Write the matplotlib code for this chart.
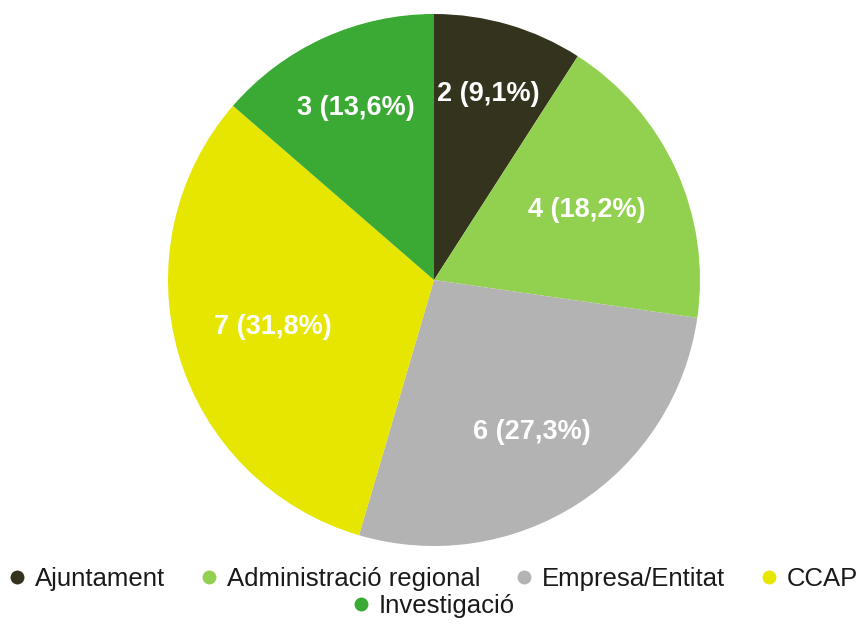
import numpy as np
import matplotlib
matplotlib.use('Agg')
import matplotlib.pyplot as plt
from matplotlib.lines import Line2D

categories = ['Ajuntament', 'Administració regional', 'Empresa/Entitat', 'CCAP', 'Investigació']
counts = [2, 4, 6, 7, 3]
pct_labels = ['2 (9,1%)', '4 (18,2%)', '6 (27,3%)', '7 (31,8%)', '3 (13,6%)']
colors = ['#33331e', '#92d050', '#b3b3b3', '#e6e600', '#3aaa35']
label_dist = [0.73, 0.63, 0.68, 0.63, 0.71]

W, H = 863, 625
fig = plt.figure(figsize=(W / 100, H / 100), dpi=100)
cx, cy, r = 434, 280, 266
ax = fig.add_axes([(cx - r) / W, (H - cy - r) / H, 2 * r / W, 2 * r / H])

wedges, _ = ax.pie(counts, colors=colors, startangle=90, counterclock=False,
                   radius=1, wedgeprops=dict(linewidth=0))
ax.set_xlim(-1, 1)
ax.set_ylim(-1, 1)
ax.set_aspect('equal')
ax.axis('off')

for w, lab, d in zip(wedges, pct_labels, label_dist):
    ang = np.deg2rad((w.theta1 + w.theta2) / 2)
    ax.text(d * np.cos(ang), d * np.sin(ang), lab, ha='center', va='center',
            color='white', fontsize=19.5, fontweight='bold', family=['Liberation Sans', 'DejaVu Sans'])

def handle(c):
    return Line2D([], [], marker='o', linestyle='', markersize=10, markerfacecolor=c, markeredgewidth=0)

font = dict(family=['Liberation Sans', 'DejaVu Sans'], size=18.5)
leg1 = fig.legend([handle(c) for c in colors[:4]], categories[:4], loc='center',
                  bbox_to_anchor=(0.5, 1 - 579 / H), ncol=4, frameon=False, prop=font,
                  handletextpad=0.2, columnspacing=1.2, handlelength=1.0)
leg2 = fig.legend([handle(colors[4])], categories[4:], loc='center',
                  bbox_to_anchor=(0.5, 1 - 606 / H), ncol=1, frameon=False, prop=font,
                  handletextpad=0.2, handlelength=1.0)
for leg in (leg1, leg2):
    for t in leg.get_texts():
        t.set_color('#1a1a1a')

fig.savefig('out.png', dpi=100)
